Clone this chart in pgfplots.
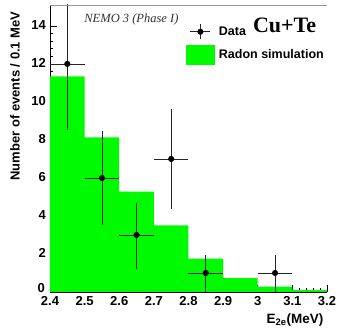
\documentclass[border=0pt]{standalone}
\usepackage{pgfplots}
\pgfplotsset{compat=1.18}
\usepackage{fontspec}
\setmainfont{Liberation Sans}
\newfontfamily\timesf{Liberation Serif}
\definecolor{hgreen}{RGB}{0,250,0}
\definecolor{frame}{RGB}{150,150,150}
\begin{document}
\begin{tikzpicture}
\path[use as bounding box] (-50pt,-36pt) rectangle (290pt,292pt);
\begin{axis}[
  scale only axis, width=277pt, height=287pt,
  at={(0,0)}, anchor=south west,
  xmin=2.4, xmax=3.2, ymin=0, ymax=15.1,
  xtick={2.4,2.5,...,3.21}, ytick={2,4,...,14},
  extra y ticks={0},
  extra y tick style={yticklabel style={yshift=3pt, xshift=-1pt}},
  xticklabels={2.4,2.5,2.6,2.7,2.8,2.9,3,3.1,3.2},
  minor x tick num=4, minor y tick num=4,
  axis x line*=bottom, axis y line*=left,
  axis line style={black, line width=0.6pt},
  tick align=inside,
  major tick length=7pt, minor tick length=3.5pt,
  every tick/.style={black, line width=0.6pt},
  /pgf/number format/assume math mode=true,
  ticklabel style={font=\fontsize{13}{15}\selectfont\bfseries, inner sep=2pt},
  yticklabel style={xshift=-2pt, yshift=1pt},
  xticklabel style={yshift=-2.5pt},
  xlabel={E\textsubscript{2e}(MeV)},
  x label style={at={(axis description cs:1,0)}, anchor=north east, yshift=-18pt, font=\fontsize{13.5}{15}\selectfont\bfseries},
  ylabel={Number of events / 0.1 MeV},
  y label style={at={(axis description cs:-0.126,0.683)}, anchor=center, font=\fontsize{13}{15}\selectfont\bfseries},
  legend style={draw=none, fill=none, at={(axis description cs:0.49,0.935)}, anchor=north west,
    row sep=5pt, inner sep=0pt,
    nodes={font=\fontsize{12.5}{14}\selectfont\bfseries, inner sep=1pt}},
  legend cell align=left,
  reverse legend,
]
\addplot[ybar interval, fill=hgreen, draw=none,
  legend image code/.code={\fill[hgreen] (0pt,-10pt) rectangle (29pt,10pt);}]
  coordinates {(2.4,11.35) (2.5,8.14) (2.6,5.28) (2.7,3.5) (2.8,1.76) (2.9,0.73) (3.0,0.28) (3.1,0.1) (3.2,0.1)};
\addlegendentry{\hspace{3pt}Radon simulation}
\addplot[only marks, mark=*, mark size=2.8pt, black,
  legend image code/.code={
    \draw[line width=0.8pt,black!85] (4.5pt,0pt) -- (24.5pt,0pt);
    \draw[line width=0.8pt,black!85] (14.5pt,-7.5pt) -- (14.5pt,7.5pt);
    \fill[black] (14.5pt,0pt) circle (2.8pt);},
  error bars/.cd, x dir=both, x explicit, y dir=both, y explicit,
  error mark=none, error bar style={line width=0.8pt, black!85}]
  coordinates {
   (2.45,12) += (0.05,3.6) -= (0.05,3.47)
   (2.55,6) += (0.05,2.45) -= (0.05,2.45)
   (2.65,3) += (0.05,1.7) -= (0.05,1.8)
   (2.75,7) += (0.05,2.65) -= (0.05,2.65)
   (2.85,1) += (0.05,0.95) -= (0.05,1.0)
   (3.05,1) += (0.05,0.95) -= (0.05,1.0)
  };
\addlegendentry{\hspace{3pt}Data}
\draw[frame, line width=0.6pt] (rel axis cs:0,1) -- (rel axis cs:1,1) -- (rel axis cs:1,0);
\node[font=\timesf\itshape\fontsize{12.5}{14}\selectfont, text=black!80] at (axis description cs:0.294,0.948) {NEMO 3 (Phase I)};
\node[font=\timesf\bfseries\fontsize{22}{24}\selectfont] at (axis description cs:0.847,0.93) {Cu+Te};
\end{axis}
\end{tikzpicture}
\end{document}
